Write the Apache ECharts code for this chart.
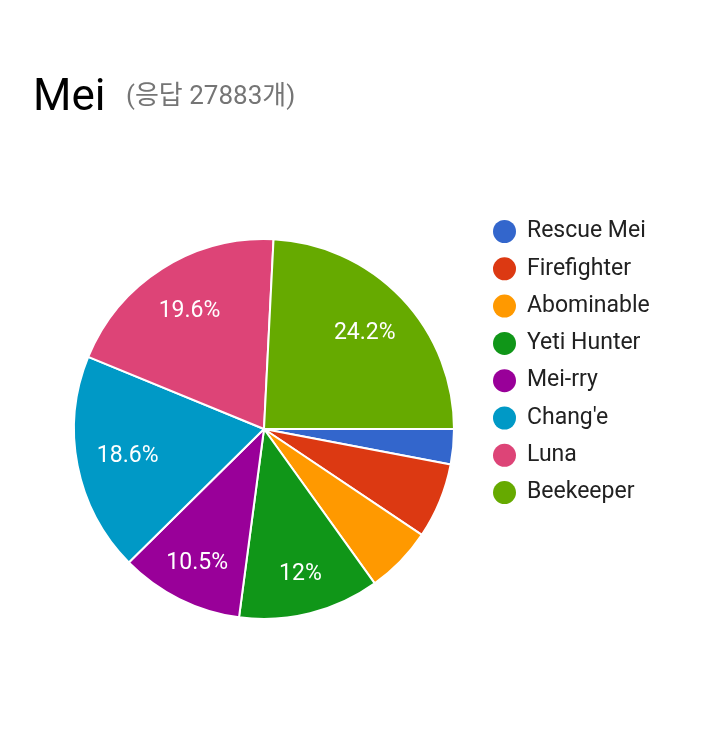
<!DOCTYPE html>
<html>
<head>
<meta charset="utf-8">
<script src="https://cdn.jsdelivr.net/npm/echarts@6/dist/echarts.min.js"></script>
<style>
html,body{margin:0;padding:0;background:#fff;}
#chart{width:720px;height:746px;}
</style>
</head>
<body>
<div id="chart"></div>
<script>
const categories = ['Rescue Mei','Firefighter','Abominable','Yeti Hunter','Mei-rry',"Chang'e",'Luna','Beekeeper'];
const percentValues = [3.0, 6.4, 5.7, 12.0, 10.5, 18.6, 19.6, 24.2];
const colors = ['#3366cc','#dc3912','#ff9900','#109618','#990099','#0099c6','#dd4477','#66aa00'];
const titleText = 'Mei';
const subtitleText = '(응답 27883개)';
const wideSlices = ['Beekeeper','Luna',"Chang'e"];
const narrowSlices = ['Yeti Hunter','Mei-rry'];

const FONT = "Roboto, 'Noto Sans CJK KR', sans-serif";
const CENTER = [264, 429];
const R = 190;

function fmt(v){ return String(Number(v)) + '%'; }

function overlay(showList, r0){
  return {
    type:'pie', silent:true, center:CENTER, radius:[r0, R],
    startAngle:0, clockwise:true, animation:false,
    itemStyle:{color:'rgba(0,0,0,0)', borderWidth:0},
    emphasis:{disabled:true},
    labelLine:{show:false},
    data: categories.map((c,i)=>({
      name:c, value:percentValues[i],
      label:{show: showList.indexOf(c) >= 0, position:'inside', color:'#fff',
             fontFamily:FONT, fontSize:23, formatter:(p)=>fmt(p.value)}
    }))
  };
}

const chart = echarts.init(document.getElementById('chart'), null, {renderer:'canvas'});
chart.setOption({
  backgroundColor:'#fff',
  animation:false,
  color: colors,
  title:[
    {text:titleText, left:28, top:72, textStyle:{fontFamily:FONT, fontSize:44, fontWeight:'normal', color:'#000'}},
    {text:subtitleText, left:121, top:79, textStyle:{fontFamily:FONT, fontSize:26, fontWeight:'normal', color:'#757575'}}
  ],
  legend:{
    orient:'vertical', left:493, top:220, padding:0,
    icon:'circle', itemWidth:23, itemHeight:23, itemGap:14.3,
    itemStyle:{borderWidth:0},
    data: categories,
    textStyle:{fontFamily:FONT, fontSize:23, color:'#212121', padding:[0,0,0,6]},
    selectedMode:false
  },
  series:[
    {
      type:'pie', center:CENTER, radius:[0, R],
      startAngle:0, clockwise:true,
      itemStyle:{borderColor:'#fff', borderWidth:2},
      label:{show:false}, labelLine:{show:false},
      emphasis:{scale:false},
      data: categories.map((c,i)=>({name:c, value:percentValues[i]}))
    },
    overlay(wideSlices, 82),
    overlay(narrowSlices, 104)
  ]
});
</script>
</body>
</html>
